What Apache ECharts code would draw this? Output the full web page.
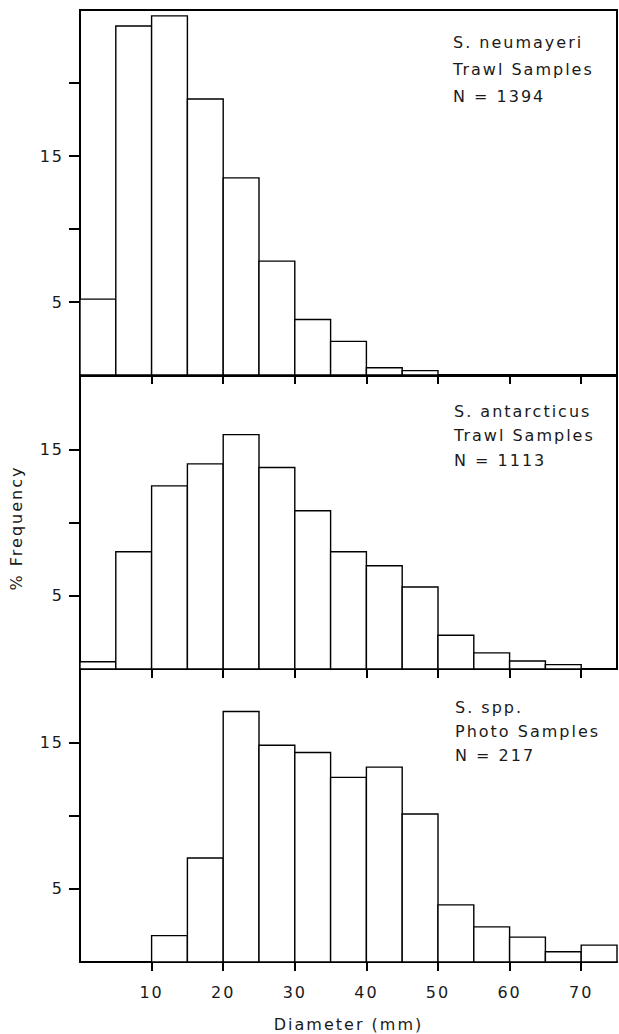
<!DOCTYPE html>
<html>
<head>
<meta charset="utf-8">
<script src="https://cdn.jsdelivr.net/npm/echarts@6/dist/echarts.min.js"></script>
<style>
  html, body { margin: 0; padding: 0; background: #fff; }
  #chart { width: 619px; height: 1034px; }
  /* the original lettering is widely spaced */
  #chart text { letter-spacing: 2px; }
</style>
</head>
<body>
<div id="chart"></div>
<script>
// bin starts (mm), each bin is 5 mm wide
var binWidth = 5
var binStarts = [0, 5, 10, 15, 20, 25, 30, 35, 40, 45, 50, 55, 60, 65, 70]

// % frequency per bin
var neumayeri = [5.2, 23.9, 24.6, 18.9, 13.5, 7.8, 3.8, 2.3, 0.5, 0.3, 0, 0, 0, 0, 0]
var antarcticus = [0.5, 8.0, 12.5, 14.0, 16.0, 13.75, 10.8, 8.0, 7.05, 5.6, 2.3, 1.1, 0.55, 0.3, 0]
var spp = [0, 0, 1.8, 7.1, 17.1, 14.8, 14.3, 12.6, 13.3, 10.1, 3.9, 2.4, 1.7, 0.7, 1.15]

var xTicks = [10, 20, 30, 40, 50, 60, 70]
var yTicksTop = [5, 10, 15, 20]
var yTicks = [5, 10, 15]
var yLabels = [5, 15]

var notes = [
  ['S. neumayeri', 'Trawl Samples', 'N = 1394'],
  ['S. antarcticus', 'Trawl Samples', 'N = 1113'],
  ['S. spp.', 'Photo Samples', 'N = 217']
]

var font = 'DejaVu Sans'
var ink = '#1a1a1a'

var chart = echarts.init(document.getElementById('chart'), null, { renderer: 'svg' })

function pairs(vals) {
  return binStarts.map(function (b, i) { return [b, vals[i]] })
}

function renderItem(params, api) {
  var x0 = api.value(0)
  var v = api.value(1)
  if (!v) return null
  var p0 = api.coord([x0, v])
  var p1 = api.coord([x0 + binWidth, 0])
  return {
    type: 'rect',
    shape: { x: p0[0], y: p0[1], width: p1[0] - p0[0], height: p1[1] - p0[1] },
    style: { fill: '#fff', stroke: '#000', lineWidth: 1.4 }
  }
}

var grids = [
  { left: 80, right: 2, top: 10, height: 365, show: true, borderColor: '#000', borderWidth: 2 },
  { left: 80, right: 2, top: 376, height: 293, show: true, borderColor: '#000', borderWidth: 2 },
  { left: 80, right: 2, top: 669, height: 293, show: false }
]

var xAxes = [0, 1, 2].map(function (i) {
  return {
    type: 'value', gridIndex: i, min: 0, max: 75,
    axisLine: { show: true, lineStyle: { color: '#000', width: 2 } },
    axisTick: { show: true, length: 9, customValues: xTicks, lineStyle: { color: '#000', width: 2 } },
    axisLabel: {
      show: i === 2, customValues: xTicks, margin: 22,
      fontFamily: font, fontSize: 16, color: ink
    },
    splitLine: { show: false },
    name: i === 2 ? 'Diameter (mm)' : '',
    nameLocation: 'middle', nameGap: 54,
    nameTextStyle: { fontFamily: font, fontSize: 16, color: ink }
  }
})

var yAxes = [0, 1, 2].map(function (i) {
  return {
    type: 'value', gridIndex: i, min: 0, max: i === 0 ? 25 : 20,
    axisLine: { show: true, lineStyle: { color: '#000', width: 2 } },
    axisTick: { show: true, length: 11, customValues: i === 0 ? yTicksTop : yTicks, lineStyle: { color: '#000', width: 2 } },
    axisLabel: { customValues: yLabels, margin: 16, fontFamily: font, fontSize: 16, color: ink },
    splitLine: { show: false }
  }
})

var series = [neumayeri, antarcticus, spp].map(function (vals, i) {
  return {
    type: 'custom', xAxisIndex: i, yAxisIndex: i,
    renderItem: renderItem,
    encode: { x: 0, y: 1 },
    data: pairs(vals),
    silent: true
  }
})

// annotation positions (px)
var noteX = [453, 454, 455]
var noteY = [43, 412, 708]
var noteGap = [27, 24.5, 24]
var graphics = []
notes.forEach(function (lines, i) {
  lines.forEach(function (t, j) {
    graphics.push({
      type: 'text', left: noteX[i], top: noteY[i] + j * noteGap[i] - 9,
      style: { text: t, fontFamily: font, fontSize: 16, fill: ink }
    })
  })
})
graphics.push({
  type: 'text', x: 16, y: 528, rotation: Math.PI / 2,
  style: { text: '% Frequency', fontFamily: font, fontSize: 16, fill: ink, align: 'center', verticalAlign: 'middle' }
})

chart.setOption({
  animation: false,
  backgroundColor: '#fff',
  grid: grids,
  xAxis: xAxes,
  yAxis: yAxes,
  series: series,
  graphic: graphics
})
</script>
</body>
</html>
